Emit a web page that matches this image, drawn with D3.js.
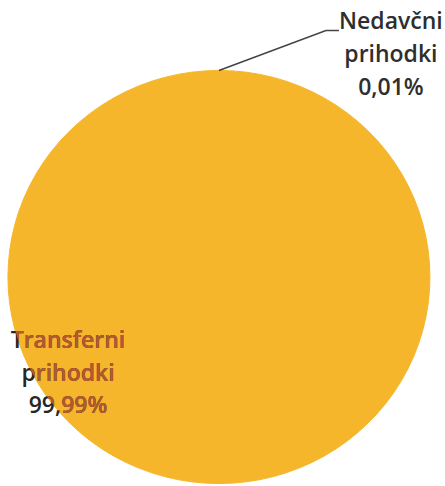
<!DOCTYPE html>
<html>
<head>
<meta charset="utf-8">
<script src="https://cdn.jsdelivr.net/npm/d3@7"></script>
<style>
  html, body { margin: 0; padding: 0; background: #fff; }
  svg { display: block; }
  text { font-family: "Open Sans", sans-serif; font-size: 23px; font-weight: 600; }
</style>
</head>
<body>
<script>
// Revenue structure (share of total, %)
const categories = ["Transferni prihodki", "Nedavčni prihodki"];
const shares = [99.99, 0.01];
const shareLabels = ["99,99%", "0,01%"];
const sliceColors = ["#F5B62B", "#E07B28"];

const width = 445, height = 486;
const cx = 219, cy = 277, radius = 211, squash = 0.979;

const svg = d3.select("body").append("svg")
  .attr("width", width).attr("height", height);

const pie = d3.pie().sort(null).value(d => d)(shares);
const arc = d3.arc().innerRadius(0).outerRadius(radius);

const defs = svg.append("defs");
defs.append("clipPath").attr("id", "pie-clip")
  .append("ellipse")
  .attr("cx", cx).attr("cy", cy).attr("rx", radius).attr("ry", radius * squash);

const g = svg.append("g")
  .attr("transform", `translate(${cx},${cy}) scale(1,${squash})`);

// Smallest slice first so the large one (with its edge stroke) sits on top
g.selectAll("path.slice")
  .data(pie.map((d, i) => ({ ...d, i })).reverse())
  .join("path")
  .attr("class", "slice")
  .attr("d", arc)
  .attr("fill", d => sliceColors[d.i])
  .attr("stroke", d => sliceColors[d.i])
  .attr("stroke-width", 1);

// Label lines split into category words + percentage
function labelLines(i) {
  const words = categories[i].split(" ");
  return [...words, shareLabels[i]];
}

const lineGap = 33;

// Small slice: leader line from the rim to the label
const small = pie[1];
const midA = (small.startAngle + small.endAngle) / 2;
const rimX = cx + radius * Math.sin(midA);
const rimY = cy - radius * Math.cos(midA) * squash;
const elbow = [rimX + 107, rimY - 40];
const lineEnd = [elbow[0] + 13, elbow[1]];

svg.append("path")
  .attr("d", d3.line()([[rimX, rimY], elbow, lineEnd]))
  .attr("fill", "none")
  .attr("stroke", "#444")
  .attr("stroke-width", 1.6);

const smallLabel = svg.append("text")
  .attr("text-anchor", "middle")
  .attr("fill", "#2e2e2e");
labelLines(1).forEach((t, k) => {
  smallLabel.append("tspan")
    .attr("x", lineEnd[0] + 52)
    .attr("y", lineEnd[1] - 1 + k * lineGap)
    .text(t);
});

// Large slice: label sits inside the pie near its left rim
const bigX = cx - 151, bigY = cy + 71;
function bigLabel(fill, clip) {
  const t = svg.append("text")
    .attr("text-anchor", "middle")
    .attr("fill", fill);
  if (clip) t.attr("clip-path", "url(#pie-clip)");
  labelLines(0).forEach((s, k) => {
    t.append("tspan")
      .attr("x", bigX)
      .attr("y", bigY + k * 32.5)
      .text(s);
  });
}
bigLabel("#262626", false);
bigLabel("#B5592E", true);
</script>
</body>
</html>
